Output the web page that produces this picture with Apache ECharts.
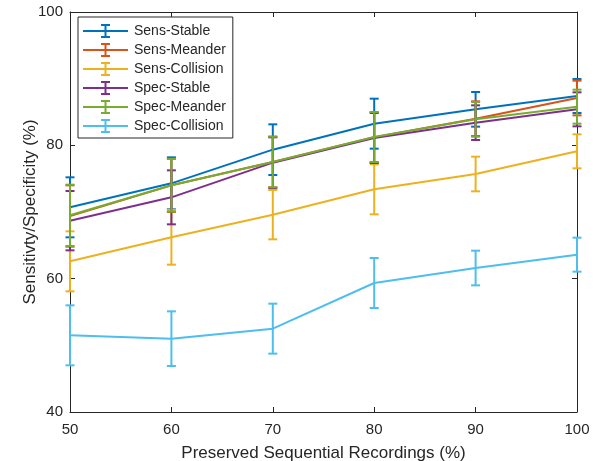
<!DOCTYPE html>
<html>
<head>
<meta charset="utf-8">
<script src="https://cdn.jsdelivr.net/npm/echarts@6/dist/echarts.min.js"></script>
<style>
  html, body { margin: 0; padding: 0; background: #fff; }
  #chart { width: 600px; height: 461px; }
</style>
</head>
<body>
<div id="chart"></div>
<script>
const xValues = [50, 60, 70, 80, 90, 100];
const names = ['Sens-Stable', 'Sens-Meander', 'Sens-Collision', 'Spec-Stable', 'Spec-Meander', 'Spec-Collision'];
const colors = ['#0072BD', '#D95319', '#EDB120', '#7E2F8E', '#77AC30', '#4DBEEE'];

const sensStable = [70.7, 74.3, 79.35, 83.25, 85.4, 87.4];
const sensStableErr = [4.5, 3.9, 3.8, 3.75, 2.6, 2.55];
const sensMeander = [69.4, 74.0, 77.5, 81.2, 84.0, 87.1];
const sensMeanderErr = [4.6, 4.0, 3.8, 3.75, 2.6, 2.6];
const sensCollision = [62.6, 66.2, 69.6, 73.4, 75.7, 79.1];
const sensCollisionErr = [4.5, 4.1, 3.7, 3.75, 2.6, 2.55];
const specStable = [68.7, 72.2, 77.4, 81.1, 83.4, 85.4];
const specStableErr = [4.45, 4.05, 3.8, 3.75, 2.6, 2.55];
const specMeander = [69.5, 74.0, 77.5, 81.25, 83.9, 85.8];
const specMeanderErr = [4.6, 3.95, 3.8, 3.75, 2.6, 2.55];
const specCollision = [51.5, 51.0, 52.5, 59.35, 61.6, 63.6];
const specCollisionErr = [4.5, 4.1, 3.75, 3.75, 2.6, 2.55];

const means = [sensStable, sensMeander, sensCollision, specStable, specMeander, specCollision];
const errs = [sensStableErr, sensMeanderErr, sensCollisionErr, specStableErr, specMeanderErr, specCollisionErr];

const axisColor = '#262626';
const font = 'Liberation Sans, Arial, sans-serif';

// legend icon: line with an errorbar in the middle
const errIcon = 'path://M0,6L45,6L45,8L0,8Z M21.5,0L23.5,0L23.5,14L21.5,14Z M18,0L27,0L27,2L18,2Z M18,12L27,12L27,14L18,14Z';

let chart = echarts.init(document.getElementById('chart'));
let series = [];
names.forEach((name, i)=>{
  series.push({
    name: name,
    type: 'line',
    data: xValues.map((x, j)=>[x, means[i][j]]),
    showSymbol: false,
    symbol: 'none',
    color: colors[i],
    lineStyle: { color: colors[i], width: 2 },
    z: 2 + i * 2,
    animation: false
  });
  series.push({
    name: name,
    type: 'custom',
    data: xValues.map((x, j)=>[x, means[i][j] - errs[i][j], means[i][j] + errs[i][j]]),
    z: 2 + i * 2,
    animation: false,
    renderItem: (params, api)=>{
      let lo = api.coord([api.value(0), api.value(1)]);
      let hi = api.coord([api.value(0), api.value(2)]);
      let hw = 4.5;
      let style = { stroke: colors[i], lineWidth: 2 };
      return {
        type: 'group',
        children: [
          { type: 'line', shape: { x1: lo[0], y1: lo[1], x2: hi[0], y2: hi[1] }, style },
          { type: 'line', shape: { x1: lo[0] - hw, y1: lo[1], x2: lo[0] + hw, y2: lo[1] }, style },
          { type: 'line', shape: { x1: hi[0] - hw, y1: hi[1], x2: hi[0] + hw, y2: hi[1] }, style }
        ]
      };
    }
  });
});

const boxAxis = (extra)=>Object.assign({
  axisLine: { show: true, onZero: false, lineStyle: { color: axisColor, width: 1 } },
  axisTick: { show: true, inside: true, length: 5, lineStyle: { color: axisColor } },
  splitLine: { show: false }
}, extra);

chart.setOption({
  backgroundColor: '#fff',
  textStyle: { fontFamily: font },
  grid: { left: 70, right: 23, top: 12, bottom: 49, containLabel: false, outerBoundsMode: 'none' },
  legend: {
    orient: 'vertical',
    left: 78,
    top: 17,
    padding: [7, 7, 5, 5],
    itemWidth: 45,
    itemHeight: 14,
    itemGap: 5,
    borderColor: axisColor,
    borderWidth: 1,
    borderRadius: 0,
    backgroundColor: '#fff',
    selectedMode: false,
    data: names.map((n)=>({ name: n, icon: errIcon })),
    itemStyle: { borderWidth: 0 },
    textStyle: { fontSize: 14, color: axisColor, fontFamily: font, padding: [0, 0, 0, 1] }
  },
  xAxis: [
    boxAxis({
      type: 'value', min: 50, max: 100, interval: 10, position: 'bottom',
      name: 'Preserved Sequential Recordings (%)',
      nameLocation: 'middle', nameGap: 33,
      nameTextStyle: { fontSize: 17, color: axisColor, fontFamily: font },
      axisLabel: { fontSize: 15, color: axisColor, margin: 10, fontFamily: font }
    }),
    boxAxis({
      type: 'value', min: 50, max: 100, interval: 10, position: 'top',
      axisLabel: { show: false }
    })
  ],
  yAxis: [
    boxAxis({
      type: 'value', min: 40, max: 100, interval: 20, position: 'left',
      name: 'Sensitivty/Specificity (%)',
      nameLocation: 'middle', nameGap: 31, nameMoveOverlap: false,
      nameTextStyle: { fontSize: 17, color: axisColor, fontFamily: font },
      axisLabel: { fontSize: 15, color: axisColor, margin: 7, fontFamily: font }
    }),
    boxAxis({
      type: 'value', min: 40, max: 100, interval: 20, position: 'right',
      axisLabel: { show: false }
    })
  ],
  series
});
</script>
</body>
</html>
